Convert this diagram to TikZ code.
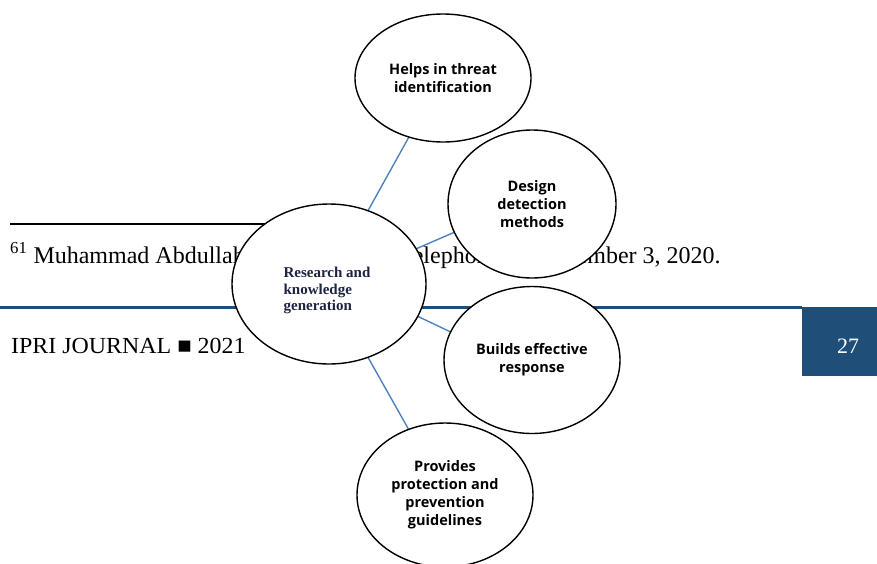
\documentclass[tikz,border=0pt]{standalone}
\usepackage{fontspec}
\setmainfont{Liberation Serif}
\newfontfamily\bubblefont{Open Sans}
\newfontfamily\footerfont[FakeStretch=1.04]{Liberation Serif}
\usetikzlibrary{shapes.geometric,backgrounds}
\definecolor{ipriblue}{RGB}{31,78,121}
\definecolor{linkblue}{RGB}{79,129,189}
\definecolor{hubink}{RGB}{30,36,64}
\tikzset{
  bubble/.style={ellipse, draw=black, line width=1.4pt, fill=white,
    inner sep=0pt, outer sep=0pt, align=center,
    font=\bubblefont\bfseries\fontsize{14.5}{18}\selectfont},
  link/.style={draw=linkblue, line width=1.4pt},
}
\begin{document}
\begin{tikzpicture}[x=1pt,y=-1pt]
\useasboundingbox (0,0) rectangle (877,563);

% footnote rule and footnote
\coordinate (ruleL) at (10,224);
\coordinate (ruleR) at (393,224);
\draw[line width=1.8pt] (ruleL) -- (ruleR);
\node[anchor=base west, inner sep=0pt, font=\fontsize{24}{28}\selectfont] (fn) at (10,263)
  {\textsuperscript{61} Muhammad Abdullah, interviewed by telephone on November 3, 2020.};

% running footer
\coordinate (barL) at (0,307.5);
\coordinate (barR) at (802,307.5);
\draw[ipriblue, line width=2.5pt] (barL) -- (barR);
\node[fill=ipriblue, minimum width=75pt, minimum height=69.5pt, anchor=north west,
  inner sep=0pt, outer sep=0pt] (pagebox) at (802,306.5) {};
\node[anchor=base, text=white, inner sep=0pt, font=\fontsize{22}{26}\selectfont]
  (pagenum) at (848,353) {27};
\node[anchor=base west, inner sep=0pt, font=\footerfont\fontsize{23}{26}\selectfont]
  (footer) at (11,353) {IPRI JOURNAL ■ 2021};

% bubbles
\node[bubble, minimum width=176pt, minimum height=128pt] (threat) at (443,78)
  {Helps in threat\\identification};
\node[bubble, minimum width=168pt, minimum height=148pt] (design) at (532,204)
  {Design\\detection\\methods};
\node[bubble, minimum width=176pt, minimum height=147pt] (response) at (532,360)
  {Builds effective\\response};
\node[bubble, minimum width=176pt, minimum height=144pt] (guide) at (445,495)
  {Provides\\protection and\\prevention\\guidelines};
\node[bubble, minimum width=194pt, minimum height=160pt] (hub) at (329,284) {};
\node[align=left, inner sep=0pt, text=hubink,
  font=\bfseries\fontsize{15}{16.5}\selectfont] (hubtext) at (327,290.5)
  {Research and\\knowledge\\generation};

% connectors from the hub, kept behind the bubbles
\begin{scope}[on background layer]
  \draw[link] (hub.62.8) -- (threat.240.6);
  \draw[link] (hub.22.5) -- (design.200.6);
  \draw[link] (hub.-20.9) -- (response.161);
  \draw[link] (hub.-62.8) -- (guide.119);
\end{scope}
\end{tikzpicture}
\end{document}
